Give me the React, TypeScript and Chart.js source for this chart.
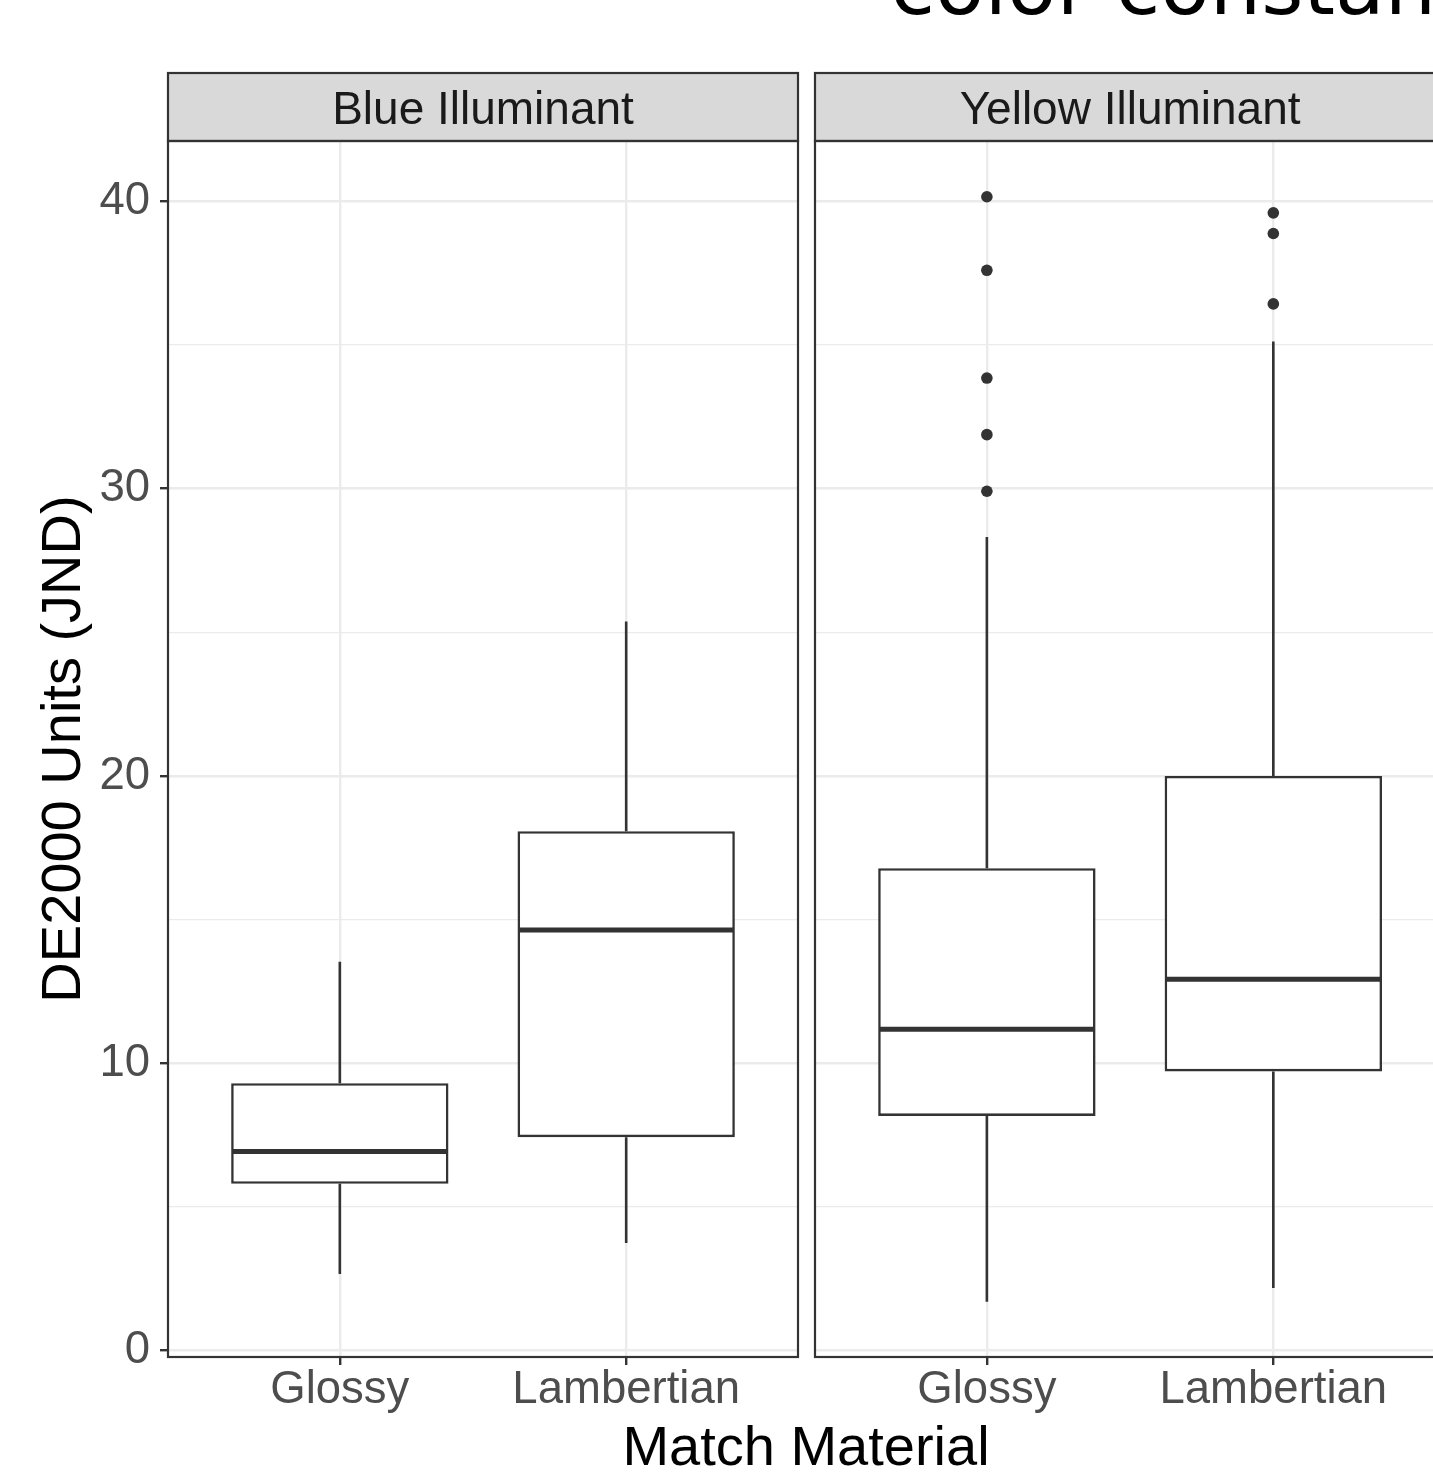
import React, { useEffect, useRef } from "react";
import { Chart, registerables } from "chart.js";

Chart.register(...registerables);

// ---------- data ----------
const categories = ["Glossy", "Lambertian"];
const facetLabels = ["Blue Illuminant", "Yellow Illuminant"];

const blueWhiskerLow = [2.67, 3.75];
const blueQ1 = [5.81, 7.43];
const blueMedian = [6.93, 14.64];
const blueQ3 = [9.31, 18.08];
const blueWhiskerHigh = [13.54, 25.38];
const blueOutliersGlossy: number[] = [];
const blueOutliersLambertian: number[] = [];

const yellowWhiskerLow = [1.7, 2.18];
const yellowQ1 = [8.17, 9.72];
const yellowMedian = [11.19, 12.93];
const yellowQ3 = [16.79, 20.0];
const yellowWhiskerHigh = [28.32, 35.12];
const yellowOutliersGlossy = [40.16, 37.6, 33.85, 31.88, 29.91];
const yellowOutliersLambertian = [39.6, 38.88, 36.43];

const yTickValues = [0, 5, 10, 15, 20, 25, 30, 35, 40];
const yMin = -0.22;
const yMax = 42.1;

const titleText = "color constancy";
const xTitle = "Match Material";
const yTitle = "DE2000 Units (JND)";

// ---------- styling ----------
const SANS = "'Liberation Sans', Arial, Helvetica, sans-serif";
const DARK = "#333333";
const GRID = "#EBEBEB";
const BOX_WIDTH = 0.75;
const LINE_W = 2.6;
const RIGHT_CANVAS_LEFT = 800;
const RIGHT_CANVAS_WIDTH = 651;

type Facet = {
  label: string;
  low: number[];
  q1: number[];
  med: number[];
  q3: number[];
  high: number[];
  outliers: number[][];
};

const facets: Facet[] = [
  {
    label: facetLabels[0],
    low: blueWhiskerLow,
    q1: blueQ1,
    med: blueMedian,
    q3: blueQ3,
    high: blueWhiskerHigh,
    outliers: [blueOutliersGlossy, blueOutliersLambertian],
  },
  {
    label: facetLabels[1],
    low: yellowWhiskerLow,
    q1: yellowQ1,
    med: yellowMedian,
    q3: yellowQ3,
    high: yellowWhiskerHigh,
    outliers: [yellowOutliersGlossy, yellowOutliersLambertian],
  },
];

function makeChart(canvas: HTMLCanvasElement, facet: Facet, isLeft: boolean) {
  const boxes = categories.map((_, i) => ({ x: i + 1, y: [facet.q1[i], facet.q3[i]] }));
  const whiskers: any[] = [];
  categories.forEach((_, i) => {
    whiskers.push({ x: i + 1, y: facet.q3[i] });
    whiskers.push({ x: i + 1, y: facet.high[i] });
    whiskers.push({ x: i + 1, y: null });
    whiskers.push({ x: i + 1, y: facet.q1[i] });
    whiskers.push({ x: i + 1, y: facet.low[i] });
    whiskers.push({ x: i + 1, y: null });
  });
  const medians: any[] = [];
  categories.forEach((_, i) => {
    medians.push({ x: i + 1 - BOX_WIDTH / 2, y: facet.med[i] });
    medians.push({ x: i + 1 + BOX_WIDTH / 2, y: facet.med[i] });
    medians.push({ x: i + 1, y: null });
  });
  const outs: any[] = [];
  facet.outliers.forEach((arr, i) => arr.forEach((v) => outs.push({ x: i + 1, y: v })));

  const facetPlugin = {
    id: "facetDecor" + (isLeft ? "L" : "R"),
    afterDraw(chart: any) {
      const { ctx, chartArea } = chart;
      const { left, right, top, bottom } = chartArea;
      ctx.save();
      // strip
      const stripTop = 73;
      ctx.fillStyle = "#D9D9D9";
      ctx.fillRect(left, stripTop, right - left, top - stripTop);
      ctx.strokeStyle = DARK;
      ctx.lineWidth = 2.2;
      ctx.strokeRect(left, stripTop, right - left, top - stripTop);
      ctx.fillStyle = "#1A1A1A";
      ctx.font = `46px ${SANS}`;
      ctx.textAlign = "center";
      ctx.textBaseline = "middle";
      ctx.fillText(facet.label, (left + right) / 2, (stripTop + top) / 2 + 4);
      // panel border
      ctx.strokeStyle = DARK;
      ctx.lineWidth = 2.2;
      ctx.strokeRect(left, top, right - left, bottom - top);
      if (!isLeft) {
        ctx.fillStyle = "#000000";
        ctx.font = `81px 'DejaVu Sans', sans-serif`;
        ctx.textAlign = "left";
        ctx.textBaseline = "alphabetic";
        ctx.fillText(titleText, 890.5 - RIGHT_CANVAS_LEFT, 14);
      }
      ctx.restore();
    },
  };

  return new Chart(canvas, {
    type: "bar",
    data: {
      datasets: [
        {
          type: "line",
          data: whiskers,
          borderColor: DARK,
          borderWidth: LINE_W,
          pointRadius: 0,
          fill: false,
          spanGaps: false,
          order: 3,
        } as any,
        {
          type: "bar",
          data: boxes,
          backgroundColor: "#FFFFFF",
          borderColor: DARK,
          borderWidth: LINE_W,
          borderSkipped: false,
          barPercentage: 0.759,
          categoryPercentage: 1,
          order: 2,
        } as any,
        {
          type: "line",
          data: medians,
          borderColor: DARK,
          borderWidth: 5,
          borderCapStyle: "butt",
          pointRadius: 0,
          fill: false,
          spanGaps: false,
          order: 1,
        } as any,
        {
          type: "scatter",
          data: outs,
          backgroundColor: DARK,
          borderColor: DARK,
          borderWidth: 0,
          pointRadius: 5.8,
          order: 0,
        } as any,
      ],
    },
    options: {
      responsive: false,
      animation: false,
      devicePixelRatio: 1,
      layout: { padding: { top: 141, left: isLeft ? 0 : 15, right: 2, bottom: 0 } },
      plugins: {
        legend: { display: false },
        tooltip: { enabled: false },
        title: { display: false },
      },
      scales: {
        x: {
          type: "linear",
          min: 0.4,
          max: 2.6,
          offset: false,
          afterBuildTicks: (axis: any) => {
            axis.ticks = categories.map((_, i) => ({ value: i + 1 }));
          },
          afterFit: (s: any) => {
            s.height = 115;
            s.paddingLeft = 0;
            s.paddingRight = 0;
          },
          ticks: {
            autoSkip: false,
            maxRotation: 0,
            minRotation: 0,
            padding: 3,
            color: "#4D4D4D",
            font: { family: SANS, size: 45.5, lineHeight: 1 },
            callback: (v: any) => categories[Math.round(Number(v)) - 1] ?? "",
          },
          grid: {
            offset: false,
            color: GRID,
            lineWidth: 2.4,
            drawTicks: true,
            tickLength: 8,
            tickWidth: 2.4,
            tickColor: DARK,
          },
          border: { display: false },
        } as any,
        y: {
          type: "linear",
          min: yMin,
          max: yMax,
          afterBuildTicks: (axis: any) => {
            axis.ticks = yTickValues.map((v) => ({ value: v }));
          },
          afterFit: (s: any) => {
            s.width = isLeft ? 168 : 0;
          },
          ticks: {
            display: isLeft,
            padding: 10,
            color: "#4D4D4D",
            font: { family: SANS, size: 45.5, lineHeight: 1 },
            callback: (v: any) => (Number(v) % 10 === 0 ? String(v) : ""),
          },
          grid: {
            color: GRID,
            lineWidth: (c: any) => (c.tick && c.tick.value % 10 === 0 ? 2.4 : 1.2),
            drawTicks: isLeft,
            tickLength: 8,
            tickWidth: 2.4,
            tickColor: (c: any) => (c.tick && c.tick.value % 10 === 0 ? DARK : "rgba(0,0,0,0)"),
          },
          border: { display: false },
          title: isLeft
            ? {
                display: true,
                text: yTitle,
                color: "#000000",
                font: { family: SANS, size: 56, lineHeight: 1.2 },
                padding: { top: 31, bottom: 0 },
              }
            : { display: false },
        } as any,
      },
    } as any,
    plugins: [facetPlugin],
  });
}

export default function App() {
  const leftRef = useRef<HTMLCanvasElement | null>(null);
  const rightRef = useRef<HTMLCanvasElement | null>(null);

  useEffect(() => {
    const charts: Chart[] = [];
    if (leftRef.current) charts.push(makeChart(leftRef.current, facets[0], true));
    if (rightRef.current) charts.push(makeChart(rightRef.current, facets[1], false));
    return () => charts.forEach((c) => c.destroy());
  }, []);

  return (
    <div
      style={{
        position: "fixed",
        left: 0,
        top: 0,
        width: 1433,
        height: 1472,
        overflow: "hidden",
        background: "#FFFFFF",
      }}
    >
      <canvas
        ref={leftRef}
        width={800}
        height={1472}
        style={{ position: "absolute", left: 0, top: 0, width: 800, height: 1472 }}
      />
      <canvas
        ref={rightRef}
        width={RIGHT_CANVAS_WIDTH}
        height={1472}
        style={{
          position: "absolute",
          left: RIGHT_CANVAS_LEFT,
          top: 0,
          width: RIGHT_CANVAS_WIDTH,
          height: 1472,
        }}
      />
      <div
        style={{
          position: "absolute",
          left: 806,
          top: 1417.6,
          transform: "translateX(-50%)",
          font: `56px ${SANS}`,
          lineHeight: "56px",
          color: "#000000",
          whiteSpace: "nowrap",
        }}
      >
        {xTitle}
      </div>
    </div>
  );
}
